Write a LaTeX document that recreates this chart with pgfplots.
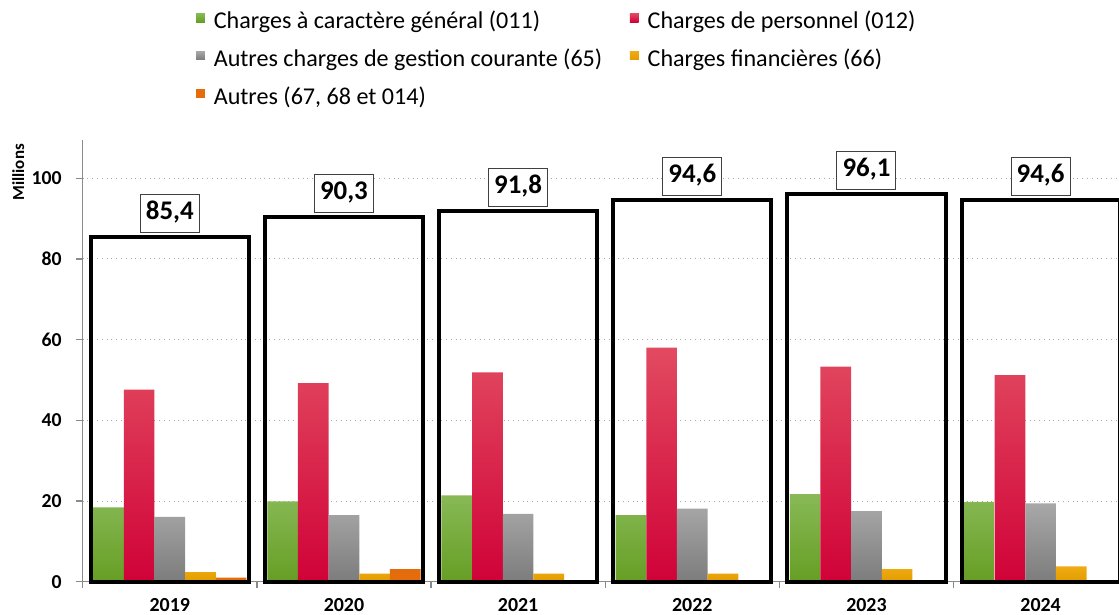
\documentclass[border=0pt]{standalone}
\usepackage{fontspec}
\setmainfont{Carlito}
\usepackage{pgfplots}
\usepackage{pgfplotstable}
\pgfplotsset{compat=1.18}

\definecolor{gTop}{RGB}{136,185,86}
\definecolor{gBot}{RGB}{102,158,36}
\definecolor{rTop}{RGB}{226,74,96}
\definecolor{rBot}{RGB}{208,2,56}
\definecolor{grTop}{RGB}{168,168,168}
\definecolor{grBot}{RGB}{124,124,124}
\definecolor{yTop}{RGB}{240,172,20}
\definecolor{yBot}{RGB}{226,156,0}
\definecolor{oCol}{RGB}{228,108,10}
\definecolor{legG}{RGB}{114,168,50}
\definecolor{legR}{RGB}{217,16,63}
\definecolor{legGr}{RGB}{140,140,140}
\definecolor{legY}{RGB}{232,163,10}
\definecolor{legO}{RGB}{228,108,10}
\definecolor{axcol}{RGB}{138,138,138}

\pgfplotstableread{
x g r gr y o t
0.5 18.4 47.6 16.1 2.4 1.0 85.4
1.5 19.9 49.2 16.5 2.0 3.1 90.3
2.5 21.4 51.9 16.8 2.0 0.0 91.8
3.5 16.5 58.0 18.1 2.0 0.0 94.6
4.5 21.7 53.3 17.5 3.1 0.0 96.1
5.5 19.8 51.2 19.4 3.8 0.0 94.6
}\data

\begin{document}
\begin{tikzpicture}
\begin{axis}[
  scale only axis,
  width=518.15bp, height=220.85bp,
  xmin=0, xmax=5.95, ymin=0, ymax=109.5,
  clip=false,
  axis x line*=bottom, axis y line*=left,
  axis line style={draw=axcol, line width=0.65bp},
  tick style={draw=axcol, line width=0.65bp},
  tick align=outside,
  ytick={0,20,40,60,80,100},
  major tick length=3.1bp,
  xtick={0,1,2,3,4,5},
  xticklabels={},
  extra x ticks={0.5,1.5,2.5,3.5,4.5,5.5},
  extra x tick labels={2019,2020,2021,2022,2023,2024},
  extra x tick style={major tick length=0pt, grid=none},
  /pgf/number format/assume math mode=true,
  yticklabel style={font=\fontsize{9.9}{11}\selectfont\bfseries, anchor=east, inner sep=0pt, xshift=-7.2bp},
  xticklabel style={font=\fontsize{10}{12}\selectfont\bfseries, anchor=north, inner sep=0pt, yshift=-8bp},
  ymajorgrids,
  major grid style={draw=gray!70, dotted, line width=0.5bp},
  ylabel={Millions},
  ylabel style={at={(axis description cs:-0.0621,0.9269)}, anchor=center, font=\fontsize{8.5}{10}\selectfont\bfseries, inner sep=0pt},
  legend columns=2,
  legend cell align=left,
  legend style={at={(axis description cs:0,1)}, anchor=north west, xshift=56.65bp, yshift=63.5bp,
    draw=none, fill=none, inner sep=0pt, outer sep=0pt,
    font=\fontsize{12.1}{14}\selectfont,
    nodes={inner sep=0pt, text height=8bp, text depth=2.5bp},
    row sep=8.4bp,
    /tikz/every odd column/.style={column sep=4.5bp},
    /tikz/every even column/.style={column sep=13.8bp}},
]
\addplot[ybar, bar width=0.1761, bar shift=-0.3522, draw=none, top color=gTop, bottom color=gBot,
  legend image code/.code={\fill[legG] (0bp,0.7bp) rectangle (4.4bp,5.1bp);}] table[x=x,y=g]{\data};
\addlegendentry{Charges à caractère général (011)}
\addplot[ybar, bar width=0.1761, bar shift=-0.1761, draw=none, top color=rTop, bottom color=rBot,
  legend image code/.code={\fill[legR] (0bp,0.7bp) rectangle (4.4bp,5.1bp);}] table[x=x,y=r]{\data};
\addlegendentry{Charges de personnel (012)}
\addplot[ybar, bar width=0.1761, bar shift=0, draw=none, top color=grTop, bottom color=grBot,
  legend image code/.code={\fill[legGr] (0bp,0.7bp) rectangle (4.4bp,5.1bp);}] table[x=x,y=gr]{\data};
\addlegendentry{Autres charges de gestion courante (65)}
\addplot[ybar, bar width=0.1761, bar shift=0.1761, draw=none, top color=yTop, bottom color=yBot,
  legend image code/.code={\fill[legY] (0bp,0.7bp) rectangle (4.4bp,5.1bp);}] table[x=x,y=y]{\data};
\addlegendentry{Charges financières (66)}
\addplot[ybar, bar width=0.1761, bar shift=0.3522, draw=none, fill=oCol,
  legend image code/.code={\fill[legO] (0bp,0.7bp) rectangle (4.4bp,5.1bp);}] table[x=x,y=o]{\data};
\addlegendentry{Autres (67, 68 et 014)}
\addplot[ybar, bar width=0.908, bar shift=0, draw=black, line width=2bp, fill=none, forget plot,
  nodes near coords={\pgfmathprintnumber[fixed,fixed zerofill,precision=1,use comma]{\pgfplotspointmeta}},
  nodes near coords align=vertical,
  every node near coord/.style={anchor=south, draw=black!75, line width=0.5bp, fill=white,
    inner sep=0pt, outer sep=0pt, minimum width=29.5bp, minimum height=18.85bp,
    text height=0.63em, text depth=0pt, yshift=2.5bp,
    font=\fontsize{13.5}{15}\selectfont\bfseries, text=black}
  ] table[x=x,y=t]{\data};
\coordinate (SW) at (rel axis cs:0,0);
\end{axis}
\pgfresetboundingbox
\path[use as bounding box] ([xshift=-41.35bp,yshift=-16.65bp]SW) rectangle ([xshift=518.15bp,yshift=290.85bp]SW);
\end{tikzpicture}
\end{document}
